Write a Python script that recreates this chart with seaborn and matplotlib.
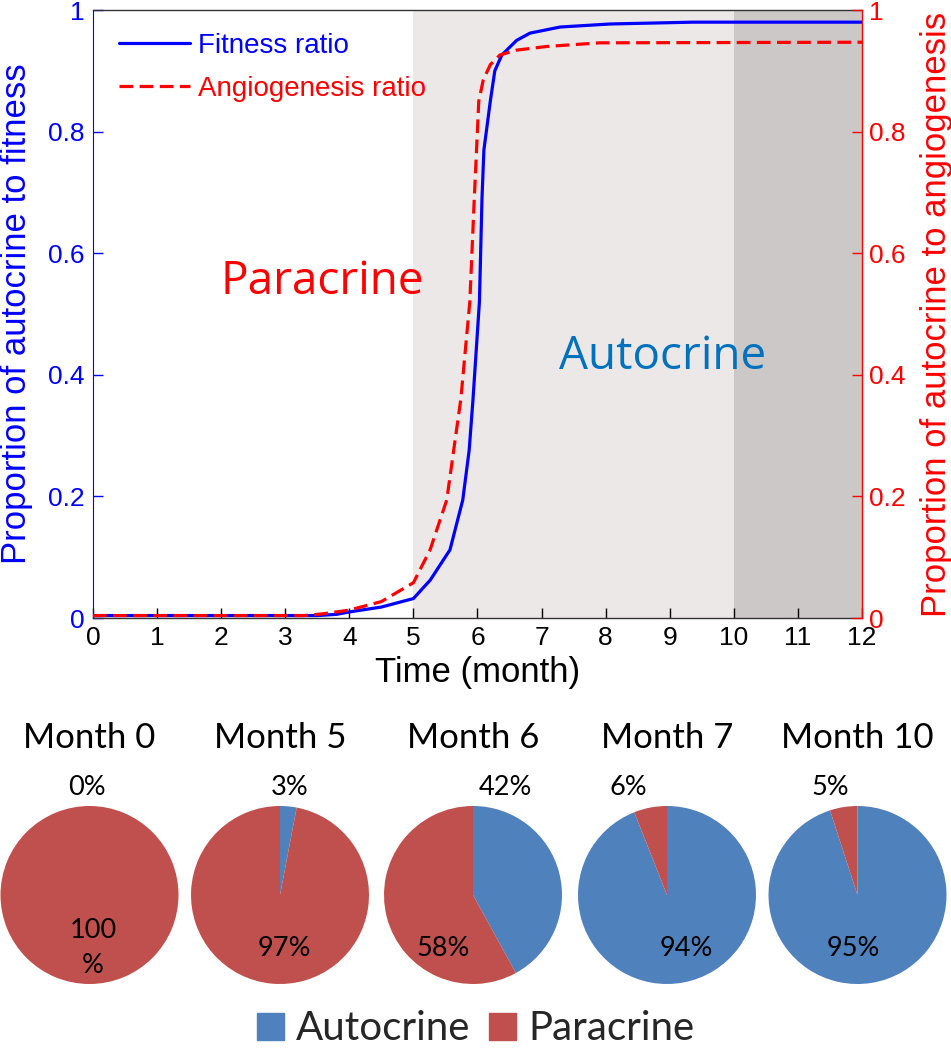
import matplotlib
matplotlib.use("Agg")
import matplotlib.pyplot as plt
from matplotlib.patches import Patch
import seaborn as sns
import pandas as pd

# ---------------- data ----------------
time_fit = [0.0, 3.5, 3.8, 4.0, 4.5, 5.0, 5.26, 5.57, 5.77, 5.87, 5.93, 6.03, 6.07, 6.10,
            6.20, 6.27, 6.38, 6.61, 6.82, 7.29, 8.07, 9.36, 12.0]
fitness_ratio = [0.004, 0.004, 0.006, 0.010, 0.018, 0.032, 0.062, 0.112, 0.194, 0.276, 0.36,
                 0.52, 0.69, 0.77, 0.85, 0.90, 0.926, 0.950, 0.962, 0.972, 0.977, 0.980, 0.980]

time_ang = [0.0, 3.3, 3.6, 4.0, 4.5, 5.0, 5.26, 5.52, 5.74, 5.88, 5.95, 6.02, 6.09, 6.20,
            6.35, 6.61, 7.08, 7.91, 12.0]
angiogenesis_ratio = [0.004, 0.004, 0.007, 0.013, 0.027, 0.058, 0.112, 0.194, 0.36, 0.52,
                      0.69, 0.85, 0.885, 0.91, 0.926, 0.934, 0.940, 0.946, 0.947]

x_ticks = list(range(0, 13))
y_ticks = [0, 0.2, 0.4, 0.6, 0.8, 1]
y_tick_labels = ["0", "0.2", "0.4", "0.6", "0.8", "1"]

pie_months = ["Month 0", "Month 5", "Month 6", "Month 7", "Month 10"]
autocrine_pct = [0, 3, 42, 94, 95]
paracrine_pct = [100, 97, 58, 6, 5]

# ---------------- style ----------------
sns.set_style("white")
plt.rcParams["font.family"] = ["Liberation Sans", "DejaVu Sans"]

BLUE = "#0000FF"
RED = "#FF0000"
PIE_BLUE = "#4F81BD"
PIE_RED = "#C0504D"

W, H = 951, 1050
fig = plt.figure(figsize=(W / 100, H / 100), dpi=100)

def px_axes(x0, y0, x1, y1):
    return [x0 / W, 1 - y1 / H, (x1 - x0) / W, (y1 - y0) / H]

ax = fig.add_axes(px_axes(93, 10, 862, 618))
ax2 = ax.twinx()

ax.axvspan(5, 10, color="#EDE8E8", zorder=0, lw=0)
ax.axvspan(10, 12, color="#CCC8C8", zorder=0, lw=0)

df_fit = pd.DataFrame({"t": time_fit, "v": fitness_ratio})
df_ang = pd.DataFrame({"t": time_ang, "v": angiogenesis_ratio})
sns.lineplot(data=df_fit, x="t", y="v", ax=ax, color=BLUE, lw=2.3,
             label="Fitness ratio", legend=False)
sns.lineplot(data=df_ang, x="t", y="v", ax=ax2, color=RED, lw=2.3,
             label="Angiogenesis ratio", legend=False)
ax2.lines[0].set_dashes([4.3, 2.0])

for a in (ax, ax2):
    a.set_xlim(0, 12)
    a.set_ylim(0, 1)
ax.set_xticks(x_ticks)
ax.set_xticklabels([str(t) for t in x_ticks])
ax.set_yticks(y_ticks)
ax.set_yticklabels(y_tick_labels)
ax2.set_yticks(y_ticks)
ax2.set_yticklabels(y_tick_labels)

ax.tick_params(axis="x", direction="in", length=7, width=1, colors="black",
               labelsize=19, pad=6, bottom=True)
ax.tick_params(axis="y", direction="in", length=7, width=1, colors=BLUE,
               labelsize=19, pad=6, left=True)
ax2.tick_params(axis="y", direction="in", length=7, width=1, colors=RED,
                labelsize=19, pad=5, right=True)

ax.set_xlabel("Time (month)", fontsize=25, color="black")
ax.set_ylabel("Proportion of autocrine to fitness", fontsize=25, color=BLUE)
ax2.set_ylabel("Proportion of autocrine to angiogenesis", fontsize=25, color=RED)
ax.xaxis.set_label_coords(0.5, -0.062)
ax.yaxis.set_label_coords(-0.078, 0.5)
ax2.yaxis.set_label_coords(1.075, 0.5)

for s in ("top", "bottom"):
    ax.spines[s].set_color("#333333")
    ax.spines[s].set_linewidth(1)
ax.spines["left"].set_color(BLUE)
ax.spines["right"].set_visible(False)
for s in ("left", "top", "bottom"):
    ax2.spines[s].set_visible(False)
ax2.spines["right"].set_color(RED)
ax2.spines["right"].set_linewidth(1)

ax.text((322 - 93) / 769, (618 - 282) / 608, "Paracrine", transform=ax.transAxes,
        ha="center", va="center", fontsize=33, color=RED, family=["Open Sans", "DejaVu Sans"])
ax.text((663 - 93) / 769, (618 - 357) / 608, "Autocrine", transform=ax.transAxes,
        ha="center", va="center", fontsize=33, color="#0072BD", family=["Open Sans", "DejaVu Sans"])

handles = [ax.lines[0], ax2.lines[0]]
leg = ax.legend(handles=handles, labels=["Fitness ratio", "Angiogenesis ratio"],
                loc="upper left", bbox_to_anchor=((119 - 93) / 769, (618 - 33) / 608),
                frameon=False, fontsize=20, handlelength=2.55, handletextpad=0.3,
                labelspacing=0.6, borderpad=0, borderaxespad=0)
for txt, c in zip(leg.get_texts(), [BLUE, RED]):
    txt.set_color(c)
leg.set_zorder(10)

# ---------------- pies ----------------
pie_font = ["Lato", "DejaVu Sans"]
centers_x = [89.5, 280, 473, 667, 857.5]
cy, r = 895, 89
small_dx = [-0.03, 0.11, 0.36, -0.44, -0.31]
big_dx = [0.04, 0.045, -0.34, 0.22, -0.05]
for i, (m, a_p, p_p) in enumerate(zip(pie_months, autocrine_pct, paracrine_pct)):
    cx = centers_x[i]
    pax = fig.add_axes(px_axes(cx - r, cy - r, cx + r, cy + r))
    vals = [a_p, p_p] if a_p > 0 else [1e-9, p_p]
    pax.pie(vals, colors=[PIE_BLUE, PIE_RED], startangle=90, counterclock=False,
            wedgeprops=dict(linewidth=0))
    pax.set_xlim(-1, 1)
    pax.set_ylim(-1, 1)
    pax.set_aspect("equal")
    pax.axis("off")
    small, big = (a_p, p_p) if a_p < p_p else (p_p, a_p)
    big_txt = f"{big}%" if big < 100 else f"{big}\n%"
    pax.text(0, 1.76, m, ha="center", va="center", fontsize=25, family=pie_font,
             color="black", clip_on=False)
    pax.text(small_dx[i], 1.21, f"{small}%", ha="center", va="center", fontsize=19.5,
             family=pie_font, color="black", clip_on=False)
    pax.text(big_dx[i], -0.6, big_txt, ha="center", va="center", fontsize=19.5,
             family=pie_font, color="black", clip_on=False, linespacing=1.5)

fig.legend(handles=[Patch(color=PIE_BLUE, label="Autocrine"),
                    Patch(color=PIE_RED, label="Paracrine")],
           loc="center", bbox_to_anchor=(0.5, 1 - 1029 / H), ncol=2, frameon=False,
           prop={"family": pie_font, "size": 29}, handlelength=0.68, handleheight=0.68,
           handletextpad=0.3, columnspacing=0.45, borderpad=0)

fig.savefig("out.png", dpi=100)
